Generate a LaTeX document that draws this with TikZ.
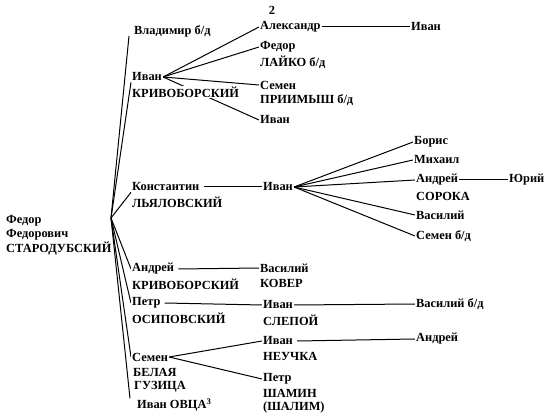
\documentclass[tikz,border=0pt]{standalone}
\usepackage{fontspec}
\setmainfont{Liberation Serif}
\usetikzlibrary{backgrounds}
\begin{document}
\begin{tikzpicture}[x=1pt,y=-1pt,
  lbl/.style={font=\bfseries\fontsize{12.4}{14}\selectfont, inner sep=1pt, anchor=west, fill=white},
  ln/.style={line width=1pt}]
\useasboundingbox (0,0) rectangle (550,417);
% texts
\node[lbl,anchor=center] (pg) at (272,10) {2};
\node[lbl] (vlad) at (133,31) {Владимир б/д};
\node[lbl] (alex) at (259,27) {Александр};
\node[lbl] (ivanA) at (410,27) {Иван};
\node[lbl] (fedor) at (259,47) {Федор};
\node[lbl] (laiko) at (259,62) {ЛАЙКО б/д};
\node[lbl] (ivanK) at (131,77) {Иван};
\node[lbl] (krivK) at (131,92) {КРИВОБОРСКИЙ};
\node[lbl] (semenP) at (259,85) {Семен};
\node[lbl] (priim) at (259,100) {ПРИИМЫШ б/д};
\node[lbl] (ivanB) at (259,120) {Иван};
\node[lbl] (rootA) at (5,221) {Федор};
\node[lbl] (rootB) at (5,235) {Федорович};
\node[lbl] (rootC) at (5,249) {СТАРОДУБСКИЙ};
\node[lbl] (konst) at (131,187) {Константин};
\node[lbl] (lyal) at (131,202) {ЛЬЯЛОВСКИЙ};
\node[lbl] (ivanL) at (262,187) {Иван};
\node[lbl] (boris) at (413,142) {Борис};
\node[lbl] (mikh) at (413,160) {Михаил};
\node[lbl] (andS) at (415,180) {Андрей};
\node[lbl] (soroka) at (415,196) {СОРОКА};
\node[lbl] (yuri) at (508,180) {Юрий};
\node[lbl] (vas) at (415,215) {Василий};
\node[lbl] (semBD) at (415,236) {Семен б/д};
\node[lbl] (andK) at (131,269) {Андрей};
\node[lbl] (krivA) at (131,284) {КРИВОБОРСКИЙ};
\node[lbl] (vasK) at (259,268) {Василий};
\node[lbl] (kover) at (259,283) {КОВЕР};
\node[lbl] (petr) at (131,303) {Петр};
\node[lbl] (osip) at (131,318) {ОСИПОВСКИЙ};
\node[lbl] (ivanS) at (262,305) {Иван};
\node[lbl] (slep) at (262,320) {СЛЕПОЙ};
\node[lbl] (vasBD) at (415,304) {Василий б/д};
\node[lbl] (semB) at (131,357) {Семен};
\node[lbl] (belaya) at (132,372) {БЕЛАЯ};
\node[lbl] (guz) at (133,387) {ГУЗИЦА};
\node[lbl] (ivanN) at (262,341) {Иван};
\node[lbl] (neuch) at (262,356) {НЕУЧКА};
\node[lbl] (andN) at (415,339) {Андрей};
\node[lbl] (petrSh) at (262,379) {Петр};
\node[lbl] (shamin) at (262,393) {ШАМИН};
\node[lbl] (shalim) at (262,408) {(ШАЛИМ)};
\node[lbl] (ovca) at (136,405) {Иван ОВЦА\textsuperscript{3}};
\coordinate (r) at (111,218);
% connectors
\begin{scope}[on background layer]
\draw[ln] (r) -- ([xshift=-4pt,yshift=2pt]vlad.south west);
\draw[ln] (r) -- (ivanK.south west);
\draw[ln] (r) -- (konst.south west);
\draw[ln] (r) -- (andK.west);
\draw[ln] (r) -- (petr.west);
\draw[ln] (r) -- (semB.west);
\draw[ln] (r) -- ([xshift=-6pt,yshift=-1pt]ovca.north west);
\draw[ln] (ivanK.east) -- (alex.west);
\draw[ln] (ivanK.east) -- (fedor.west);
\draw[ln] (ivanK.east) -- (semenP.west);
\draw[ln] (ivanK.east) -- (ivanB.west);
\draw[ln] (alex.east) -- (ivanA.west);
\draw[ln] ([xshift=3pt]konst.east) -- (ivanL.west);
\draw[ln] (ivanL.east) -- (boris.west);
\draw[ln] (ivanL.east) -- (mikh.west);
\draw[ln] (ivanL.east) -- (andS.west);
\draw[ln] (ivanL.east) -- (vas.west);
\draw[ln] (ivanL.east) -- (semBD.west);
\draw[ln] (andS.east) -- (yuri.west);
\draw[ln] ([xshift=3pt]andK.east) -- (vasK.west);
\draw[ln] ([xshift=3pt]petr.east) -- (ivanS.west);
\draw[ln] (ivanS.east) -- (vasBD.west);
\draw[ln] (semB.east) -- (ivanN.west);
\draw[ln] (semB.east) -- (petrSh.west);
\draw[ln] ([xshift=3pt]ivanN.east) -- (andN.west);
\end{scope}
\end{tikzpicture}
\end{document}
